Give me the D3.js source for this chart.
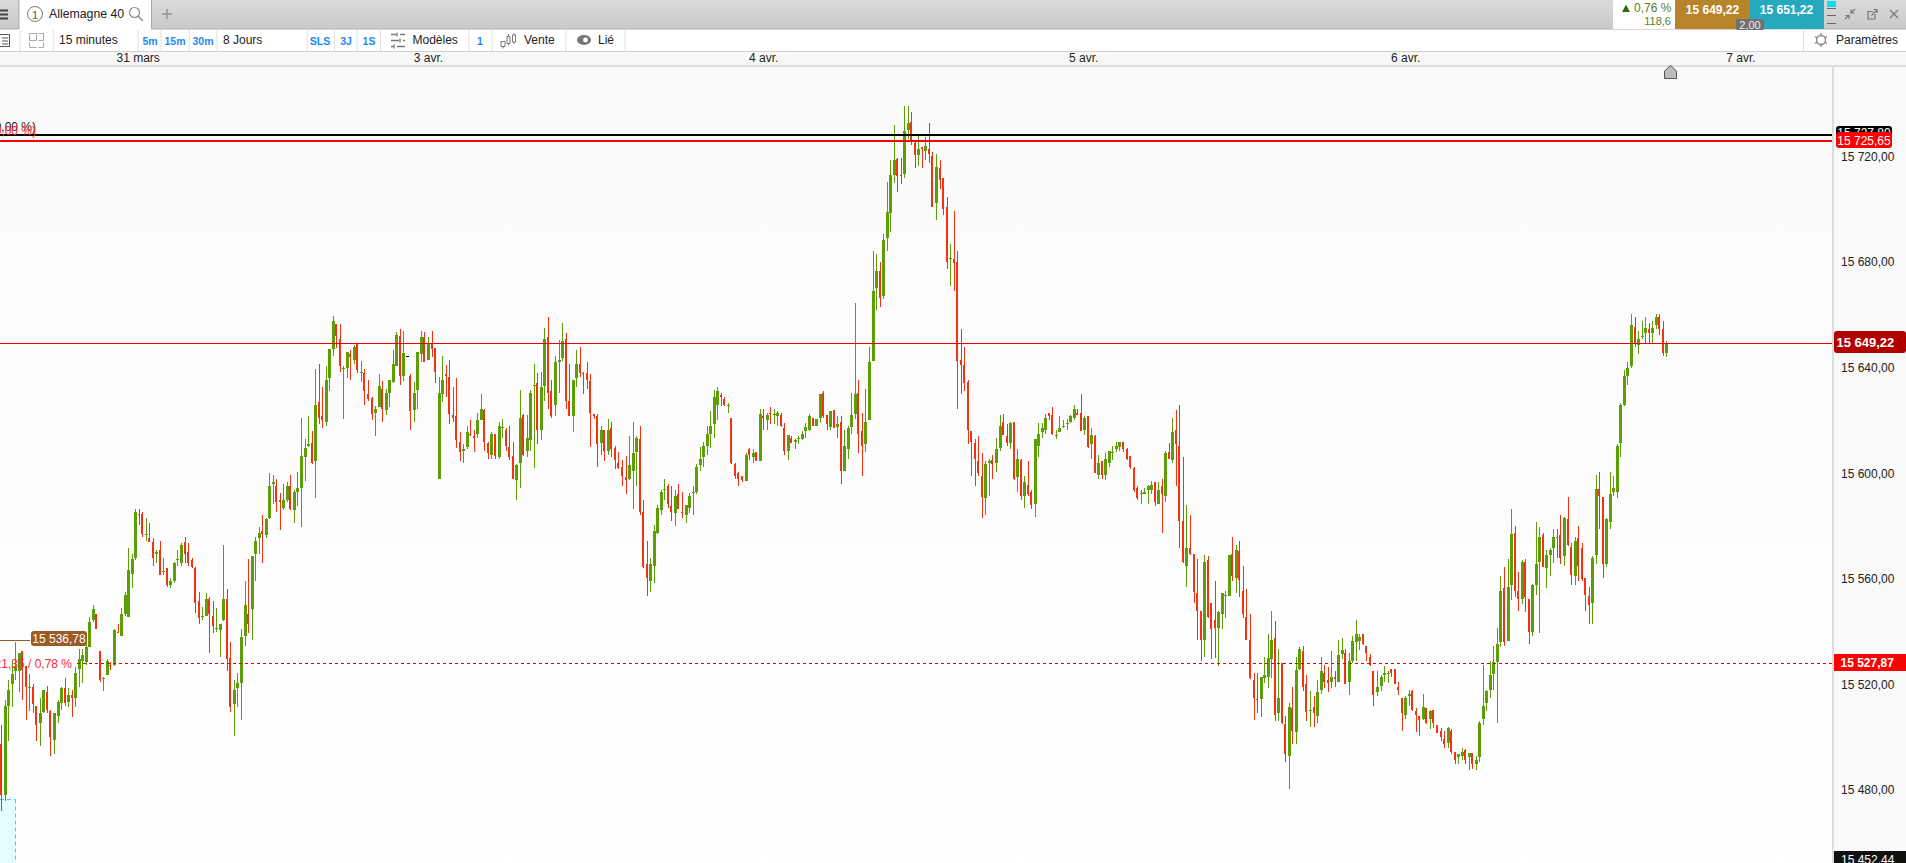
<!DOCTYPE html>
<html lang="fr"><head><meta charset="utf-8"><title>Allemagne 40</title>
<style>html,body{margin:0;padding:0;background:#fff;overflow:hidden}svg{display:block;font-family:"Liberation Sans",Arial,sans-serif}</style>
<script src="https://cdn.jsdelivr.net/npm/d3@7/dist/d3.min.js"></script></head><body><svg id="c" width="1906" height="863"></svg>
<script>
// [open, high, low, close]
const session1=[[15497.5,15504.5,15472,15478],[15478,15514,15476,15512],[15512,15521.5,15498.5,15518],[15520,15529,15511.5,15524],[15525,15536,15521.5,15527],[15525,15532,15517,15532],[15532.5,15532.5,15514,15525.5],[15527,15527,15506.5,15519],[15518.5,15524,15510,15519],[15519,15520,15509,15512.5],[15512,15512,15498.5,15504.5],[15505.5,15515,15496.5,15509],[15509.5,15518,15509,15518],[15517,15519.5,15509,15510.5],[15510,15510.5,15493,15500],[15499,15509,15493.5,15509],[15508,15514,15505.5,15513.5],[15513,15519,15510.5,15518.5],[15518.5,15522.5,15512,15513],[15513.5,15518.5,15511.5,15516],[15516,15518,15507.5,15515],[15515,15526.5,15511.5,15524.5],[15526,15533.5,15519,15529.5],[15529,15533.5,15520.5,15531],[15528.5,15535,15527.5,15534],[15534,15545.5,15534,15543.5],[15544.5,15550,15543.5,15548.5],[15546.5,15546.5,15541,15541],[15532.5,15532.5,15521,15521.5],[15522,15523,15517.5,15522.5],[15523.5,15529.5,15523.5,15529],[15527.5,15528.5,15525.5,15527],[15527.5,15541,15527,15540.5],[15540,15543,15539.5,15539.5],[15538.5,15549,15538.5,15546.5],[15546.5,15555,15546,15554],[15545.5,15571.5,15545.5,15563.5],[15562,15569.5,15556.5,15567.5],[15568,15586.5,15567,15585.5],[15584.5,15586.5,15580.5,15584],[15584.5,15585.5,15576,15577],[15576.5,15583,15574.5,15577],[15575.5,15581,15574,15574],[15574,15575.5,15565,15568],[15569.5,15571,15566,15570],[15571,15574.5,15561.5,15561.5],[15562.5,15568,15561.5,15563],[15564,15564,15557,15557.5],[15557.5,15560.5,15556.5,15559],[15559,15566.5,15558.5,15566],[15567,15571,15565,15567.5],[15566,15573.5,15565,15573],[15574,15576,15566,15569.5],[15570,15573.5,15565,15566],[15567,15568,15564,15564.5],[15564,15564.5,15547,15551],[15551.5,15555,15543,15545],[15545.5,15549.5,15544.5,15546],[15546,15554.5,15546,15552.5],[15552.5,15553,15532,15546.5],[15546,15551.5,15539.5,15542],[15541,15549,15540,15541.5],[15540.5,15543,15530.5,15543],[15544.5,15573,15544,15552.5],[15552.5,15556,15525,15529.5],[15530,15536,15509.5,15511.5],[15512.5,15521.5,15500.5,15518],[15518.5,15524.5,15511.5,15520.5],[15520.5,15541,15506.5,15538],[15538.5,15559,15534.5,15550],[15546.5,15567.5,15539.5,15543],[15548.5,15568.5,15537,15568.5],[15569.5,15576,15559,15574.5],[15575.5,15579.5,15569.5,15577.5],[15578,15584,15566,15577],[15576.5,15583,15575.5,15582.5],[15583,15600,15582.5,15595],[15596,15599.5,15588.5,15596.5],[15595,15598,15585.5,15589],[15590,15592.5,15578.5,15589],[15587,15596,15586,15590],[15590,15596.5,15589,15595],[15595,15599.5,15586,15586.5],[15586,15593.5,15581,15593],[15593,15600.5,15587.5,15594.5],[15594.5,15621,15579.5,15606.5],[15606,15613,15597,15609.5],[15610.5,15621.5,15610,15611],[15611.5,15616,15603.5,15604],[15604.5,15639.5,15590.5,15626],[15627,15641.5,15618.5,15621]];
const session2=[[15621.5,15632.5,15617,15620],[15619.5,15640.5,15618,15635.5],[15636,15647,15631,15647],[15647,15659.5,15644.5,15657.5],[15656.5,15656.5,15647.5,15652],[15651,15656.5,15638.5,15640.5],[15639.5,15640.5,15620.5,15640],[15640,15646,15636,15646],[15645,15646.5,15635.5,15644],[15643,15648.5,15641.5,15648],[15649,15649,15638,15639],[15638,15642.5,15634.5,15638.5],[15638,15639.5,15626,15631],[15630,15635.5,15627.5,15628],[15628.5,15629,15620,15622.5],[15623,15625.5,15614,15624.5],[15625,15637.5,15625,15633],[15632,15635,15619.5,15624.5],[15624,15632,15622,15630.5],[15630.5,15635.5,15625,15635.5],[15634.5,15646.5,15634,15641.5],[15640.5,15653.5,15640.5,15652.5],[15652,15654.5,15633.5,15637],[15637,15654,15635,15645.5],[15644.5,15644.5,15644.5,15644.5],[15637,15637.5,15616.5,15623.5],[15624,15634.5,15619.5,15630.5],[15631.5,15646,15624.5,15646],[15645,15654,15642,15651.5],[15651.5,15653.5,15642,15642],[15643,15651.5,15643,15649.5],[15649.5,15654,15644,15647],[15647.5,15647.5,15634,15638.5],[15598,15636.5,15598,15630.5],[15630,15644.5,15627,15635.5],[15637.5,15641,15629,15637],[15636.5,15643,15618.5,15622.5],[15622,15632.5,15619.5,15621],[15621.5,15636,15609.5,15612.5],[15612,15615.5,15604.5,15608],[15608.5,15611,15604,15609],[15610,15618,15609,15615.5],[15615,15620,15614,15614.5],[15614,15616.5,15608,15613.5],[15615,15623,15613.5,15620],[15620,15630,15620,15624.5],[15624,15624.5,15608.5,15612],[15611.5,15612,15605.5,15607.5],[15607,15615.5,15605.5,15615],[15615,15615,15605.5,15606.5],[15606,15619.5,15605.5,15618],[15617,15620.5,15613.5,15617.5],[15616.5,15617,15608.5,15610.5],[15610,15618,15605,15606],[15606.5,15612,15598,15598],[15597.5,15603.5,15590,15603],[15604,15631.5,15594.5,15621],[15622,15622.5,15606.5,15607],[15608.5,15622,15606,15613.5],[15612.5,15631.5,15608.5,15630.5],[15633,15641.5,15602,15633.5],[15634,15638,15611,15616.5],[15616.5,15638.5,15612.5,15632.5],[15633,15655,15627.5,15651],[15651.5,15659,15624.5,15630.5],[15631,15635.5,15621,15621.5],[15626,15644.5,15621.5,15642],[15642,15650.5,15630.5,15643],[15643.5,15657,15642.5,15650],[15651,15653,15624.5,15627.5],[15627.5,15641.5,15621.5,15621.5],[15621.5,15635.5,15615.5,15635.5],[15636,15646.5,15632.5,15641.5],[15641.5,15648,15636.5,15638],[15638,15638.5,15630,15637.5],[15638,15642,15632,15635.5],[15635,15637.5,15610,15623],[15622.5,15622.5,15620.5,15621.5],[15621.5,15622.5,15602.5,15611],[15611.5,15618,15607,15616.5],[15616.5,15616.5,15604.5,15608.5],[15608.5,15620.5,15607,15616.5],[15617,15619.5,15606,15609],[15609.5,15610.5,15601.5,15605],[15604,15608,15601.5,15602],[15602.5,15605,15595,15599],[15598.5,15606.5,15592,15597.5],[15598,15614,15597.5,15603],[15601,15619.5,15586.5,15607.5],[15608,15614,15595,15613.5],[15613,15618,15584,15585.5]];
const session3=[[15585.5,15590,15564,15564.5],[15565.5,15574.5,15553.5,15560.5],[15559,15568,15555,15565.5],[15565,15580.5,15558.5,15578],[15577.5,15588,15577,15587],[15586,15593.5,15584,15593],[15593.5,15598,15590,15594],[15595,15596,15587,15588.5],[15587.5,15595,15582,15585.5],[15585,15593.5,15580,15591.5],[15592,15596,15586.5,15586.5],[15585.5,15593,15583,15585],[15584,15588,15581,15588],[15587,15592.5,15585,15591.5],[15592.5,15595,15584,15593],[15593,15603.5,15592,15602.5],[15603,15610,15601,15605.5],[15606,15612,15602.5,15610.5],[15610.5,15618,15607,15615],[15615,15623.5,15609.5,15618],[15618.5,15631.5,15613.5,15629],[15626,15632.5,15620,15631],[15629.5,15630.5,15625.5,15629],[15628,15629,15625.5,15626],[15625.5,15626.5,15623,15626],[15621,15621,15603.5,15604],[15603.5,15604,15598,15599],[15600,15600.5,15595,15598],[15599,15599,15596.5,15597.5],[15597,15607.5,15597,15607],[15609,15609.5,15605,15607],[15606,15609,15604,15607.5],[15608,15608,15604.5,15604.5],[15604.5,15624.5,15604.5,15622.5],[15621.5,15624.5,15616.5,15621],[15620,15623,15616.5,15622],[15623,15625,15618.5,15622.5],[15622,15624.5,15618.5,15622.5],[15621.5,15623.5,15618,15623],[15622,15623,15617.5,15618],[15617,15619,15607,15608.5],[15608.5,15614.5,15605,15614.5],[15613.5,15614,15611.5,15611.5],[15612,15613,15609,15612.5],[15613,15614,15611,15613.5],[15613,15616,15612.5,15615],[15616,15619,15613.5,15617.5],[15616.5,15622.5,15616,15621.5],[15621,15621,15618,15618],[15618,15620.5,15618,15620.5],[15621,15630,15619,15630],[15630.5,15631,15621,15621.5],[15622,15622,15616.5,15618.5],[15617.5,15623.5,15616.5,15623.5],[15624,15624,15617,15617],[15617.5,15621.5,15613.5,15618.5],[15619.5,15621.5,15596,15601],[15601,15616.5,15601,15610.5],[15609,15618,15605.5,15617],[15617.5,15630.5,15615,15622],[15622.5,15664.5,15620.5,15630],[15630.5,15635.5,15607.5,15615],[15616,15623,15599,15610.5],[15611,15632,15608,15619.5],[15620,15648,15620,15642]];
const session4=[[15642.5,15684,15642.5,15669],[15670,15683,15662,15676.5],[15676.5,15680,15663,15666.5],[15667,15690.5,15666,15688.5],[15689,15710.5,15684,15699],[15698.5,15718.5,15691.5,15713],[15713,15732,15710,15718.5],[15719,15719.5,15706.5,15712.5],[15713,15719.5,15709.5,15712.5],[15713.5,15739,15712,15729.5],[15730,15739,15726.5,15732.5],[15733,15737,15724.5,15725.5],[15725,15726,15715.5,15720.5],[15720.5,15728,15716.5,15723],[15723.5,15723.5,15715.5,15723],[15722,15727.5,15718.5,15724],[15723,15732.5,15717.5,15721],[15720,15721.5,15701,15701],[15702.5,15721,15696,15716],[15715.5,15718.5,15707.5,15711],[15712,15712,15698,15700],[15701,15704.5,15677.5,15680],[15681,15687,15671,15681.5],[15681,15699.5,15669,15679.5],[15680,15684,15624.5,15642.5],[15643,15654.5,15630,15641],[15641,15648,15631,15634],[15634.5,15635.5,15611,15616.5]];
const session5=[[15616,15616,15599,15612],[15611.5,15613,15595,15605.5],[15604.5,15614,15599,15600],[15599,15607.5,15583,15591],[15590.5,15604.5,15584,15603.5],[15604,15605.5,15591.5,15604.5],[15605,15607,15598,15603.5],[15604,15613.5,15600.5,15609],[15609.5,15622,15608.5,15618],[15619.5,15622.5,15614.5,15614.5],[15614,15618.5,15610.5,15611.5],[15611.5,15619.5,15609,15619],[15619.5,15619.5,15597.5,15598],[15598.5,15609,15593,15605.5],[15605,15605.5,15590,15591.5],[15591.5,15599,15587,15596.5],[15595.5,15604.5,15591.5,15592],[15593,15593.5,15586.5,15588],[15588.5,15613,15583.5,15613],[15610.5,15619,15606,15615],[15615.5,15619,15613.5,15617],[15616.5,15622.5,15615,15621],[15623,15623,15620,15621.5],[15622,15625,15614.5,15615],[15614,15616.5,15613,15614.5],[15615.5,15621.5,15615.5,15617],[15617.5,15620,15617,15618],[15618.5,15620.5,15616.5,15619],[15619.5,15622,15619,15621.5],[15621,15626,15620,15624.5],[15623,15624.5,15622,15622],[15623,15630,15616,15616],[15616.5,15621.5,15614.5,15621],[15621.5,15621.5,15609.5,15610],[15611,15617,15605.5,15614.5],[15614,15614.5,15600,15600],[15599.5,15607,15598,15604],[15604.5,15604.5,15598,15599.5],[15599.5,15607.5,15597.5,15605.5],[15604,15608.5,15602.5,15608.5],[15607.5,15610.5,15605,15608],[15609,15612,15608,15610.5],[15610,15612,15608.5,15612],[15612,15612,15608,15609],[15609,15609.5,15605,15605.5],[15606.5,15606.5,15601.5,15602.5],[15602,15602.5,15593,15593.5],[15594.5,15595,15590,15590.5],[15592,15593.5,15588.5,15592.5],[15592,15594.5,15592,15593],[15593.5,15595.5,15588.5,15595],[15593.5,15597,15592,15595.5],[15596.5,15596.5,15587.5,15589],[15588.5,15596.5,15588.5,15593.5],[15595,15598,15577.5,15592],[15591.5,15608.5,15589,15607.5],[15608,15611.5,15605.5,15605.5],[15605,15621,15604,15615.5],[15616.5,15624,15595,15611],[15610.5,15626,15571.5,15582],[15582,15606,15566,15566.5],[15565,15588,15557,15571.5],[15571.5,15584,15569,15569.5],[15569.5,15569.5,15551,15555],[15554.5,15567.5,15537,15548],[15548,15548,15529,15537],[15537,15569,15530.5,15566.5],[15567,15568.5,15545,15545.5],[15551,15551,15529.5,15541],[15544.5,15559,15530,15541.5],[15541.5,15548,15527,15547.5],[15546.5,15554.5,15541,15554.5],[15553.5,15555.5,15545,15554],[15553.5,15569,15553.5,15569],[15569.5,15576,15559,15561],[15560.5,15573,15554.5,15571],[15570.5,15574.5,15553,15559.5],[15555.5,15565,15545,15546.5],[15545.5,15556,15537,15537],[15537,15546.5,15522,15522.5],[15521.5,15524.5,15506.5,15515],[15514.5,15524.5,15509,15514],[15514.5,15523,15507.5,15523],[15522.5,15530.5,15520.5,15523.5],[15523,15539,15518.5,15530]];
const session6=[[15529.5,15548,15522.5,15537],[15537.5,15544,15506,15508.5],[15509,15533.5,15506,15515],[15528,15528,15505,15505.5],[15505,15508,15490.5,15493.5],[15493,15513,15480.5,15511.5],[15511,15519,15497.5,15502.5],[15502,15530.5,15497.5,15525.5],[15526,15534,15525.5,15533.5],[15532.5,15534.5,15517.5,15519],[15520,15523.5,15506,15509.5],[15510,15517.5,15504,15510.5],[15511.5,15515.5,15504,15509],[15508,15521.5,15505.5,15517],[15518,15530.5,15516.5,15525],[15524.5,15527.5,15518.5,15521],[15521.5,15526.5,15517,15520.5],[15521,15532.5,15518.5,15523],[15523,15525,15519,15522],[15521,15537,15521,15531],[15531.5,15537.5,15529.5,15533],[15532,15533.5,15520,15520],[15521,15532,15516,15529],[15529,15538.5,15528,15536.5],[15536,15544.5,15529,15539],[15536.5,15539,15533,15538],[15539,15539,15535,15535.5],[15534.5,15534.5,15529,15532],[15530.5,15531.5,15527,15527.5],[15525,15525,15512,15516],[15517,15525,15515.5,15519],[15519.5,15523.5,15517.5,15523],[15523.5,15527,15521,15524.5],[15524,15525,15520.5,15524.5],[15526,15526,15523,15524.5],[15526,15526,15520,15520],[15519,15521,15516,15518],[15515,15515,15502.5,15509],[15508.5,15515.5,15507,15515],[15515.5,15518,15512,15516.5],[15517.5,15518,15510,15510.5],[15510,15511,15502,15508.5],[15508,15508,15500.5,15506.5],[15507,15516.5,15506.5,15511.5],[15511,15511,15505,15505.5],[15507,15510.5,15503,15510],[15510.5,15510.5,15503.5,15505.5],[15504.5,15504.5,15501.5,15501.5],[15502.5,15503.5,15498.5,15500],[15499.5,15502.5,15496,15497.5],[15498,15504,15496,15503.5],[15502.5,15503,15493.5,15494.5],[15494.5,15494.5,15490,15491.5],[15492.5,15493.5,15490,15493.5],[15493,15496,15491.5,15494.5],[15495,15495.5,15490,15491.5],[15492.5,15494,15487.5,15494],[15494,15494,15488,15490],[15490,15493,15487.5,15491.5],[15492.5,15506,15490.5,15505.5],[15507,15527.5,15504.5,15512],[15513,15518,15510,15517.5],[15518,15529,15515,15523.5],[15524,15534.5,15518,15528.5],[15528.5,15541.5,15505.5,15535.5]];
const session7=[[15536,15561,15534,15555.5],[15556.5,15564.5,15534.5,15536],[15536.5,15567.5,15536.5,15557],[15557.5,15586.5,15552,15577],[15577.5,15580,15553,15555.5],[15555.5,15562.5,15548,15552.5],[15552.5,15567,15550.5,15566.5],[15566.5,15567.5,15547.5,15553],[15552.5,15552.5,15535.5,15540],[15540,15558,15538.5,15557.5],[15557.5,15581.5,15554,15565.5],[15566.5,15579.5,15539.5,15576],[15576.5,15577.5,15564.5,15564.5],[15564,15571,15556.5,15569],[15569,15571.5,15561,15571],[15571.5,15579,15566,15576],[15576,15579,15568,15575.5],[15576.5,15584,15565.5,15568],[15568.5,15583.5,15565,15583],[15582.5,15591,15572.5,15573],[15572,15573.5,15557.5,15561.5],[15561,15576,15557.5,15574.5],[15575.5,15580,15559,15565],[15571.5,15573.5,15559,15560],[15560.5,15560.5,15548,15554],[15553.5,15557,15543,15550],[15551,15568.5,15543,15568],[15569,15599.5,15565.5,15594],[15594,15600.5,15579,15591.5],[15591,15591,15560.5,15565.5],[15565.5,15583,15564.5,15582.5],[15581.5,15600.5,15579,15592],[15593,15599,15591.5,15594.5],[15593,15611,15590.5,15610.5],[15611.5,15626.5,15606,15626],[15626,15639,15625.5,15637],[15637,15642,15633.5,15640],[15640.5,15660.5,15640,15656],[15655.5,15659,15648,15649],[15648.5,15654,15645,15651],[15651.5,15657.5,15651,15652],[15653,15659,15649.5,15655],[15654.5,15657,15649.5,15653],[15653,15657.5,15649.5,15655],[15656,15660.5,15654.5,15659],[15659,15660.5,15652.5,15654.5],[15654.5,15657.5,15644.5,15645.5],[15645.5,15650,15644,15649.22]];
const dateLabels=["31 mars","3 avr.","4 avr.","5 avr.","6 avr.","7 avr."];
const dateIndex=[38.7,121,216,306.7,398,493];
const priceTicks=[15720,15680,15640,15600,15560,15520,15480];
const lastPrice=15649.22, askPrice=15651.22, spread="2,00";
const highLevel=15727.8, redLevel=15725.65, prevClose=15527.87, openRef=15536.78, lowLevel=15452.44;

const candles=[...session1,...session2,...session3,...session4,...session5,...session6,...session7];
const W=1906,H=863,axisX=1833,chartTop=67;
const svg=d3.select("#c");
const x=d3.scaleLinear().domain([0,candles.length-1]).range([1.1,1666.3]);
const y=d3.scaleLinear().domain([15649.22,15452.44]).range([343.3,862.8]);
const fmt=v=>{const s=v.toFixed(2).replace(".",",");return s.slice(0,2)+" "+s.slice(2)};
const defs=svg.append("defs");
const lg=(id,a,b)=>{const g=defs.append("linearGradient").attr("id",id).attr("x1",0).attr("x2",0).attr("y1",0).attr("y2",1);g.append("stop").attr("offset",0).attr("stop-color",a);g.append("stop").attr("offset",1).attr("stop-color",b)};
lg("bgc","#fafafa","#ffffff");lg("tab","#dadada","#c9c9c9");
const rect=(p,x0,y0,w,h,f)=>p.append("rect").attr("x",x0).attr("y",y0).attr("width",w).attr("height",h).attr("fill",f);
const text=(p,t,x0,y0,o={})=>p.append("text").text(t).attr("x",x0).attr("y",y0).attr("font-size",o.s||12).attr("fill",o.f||"#222").attr("font-weight",o.w||null).attr("text-anchor",o.a||"start").attr("dominant-baseline","central");
const line=(p,a,b,c,d,col,w=1)=>p.append("line").attr("x1",a).attr("y1",b).attr("x2",c).attr("y2",d).attr("stroke",col).attr("stroke-width",w);

// chart background
rect(svg,0,chartTop,axisX,H-chartTop,"url(#bgc)");
rect(svg,axisX,chartTop,W-axisX,H-chartTop,"#f9f9f9");
rect(svg,axisX-1,chartTop-1,2,H-chartTop+1,"#dcdcdc");

// cyan zone
rect(svg,0,799.5,15.5,H-799.5,"#e4fbff");
line(svg,0,799.5,15.5,799.5,"#35d5ee").attr("stroke-dasharray","4 3");
line(svg,15.5,799.5,15.5,H,"#35d5ee").attr("stroke-dasharray","4 3");

// candles
const up="#5c9e05",dn="#f5320f";
const col=d=>d[3]>d[0]?up:d[3]<d[0]?dn:"#000";
const g=svg.append("g").attr("shape-rendering","crispEdges");
const cx=i=>Math.round(x(i));
g.selectAll("rect.w").data(candles).join("rect").attr("class","w")
 .attr("x",(d,i)=>cx(i)).attr("width",1)
 .attr("y",d=>y(d[1])).attr("height",d=>Math.max(1,y(d[2])-y(d[1]))).attr("fill",col);
g.selectAll("rect.b").data(candles).join("rect").attr("class","b")
 .attr("x",(d,i)=>cx(i)-1).attr("width",d=>d[3]<d[0]?2:3)
 .attr("y",d=>y(Math.max(d[0],d[3]))).attr("height",d=>Math.max(1,Math.abs(y(d[0])-y(d[3])))).attr("fill",col);

// levels
const lev=svg.append("g").attr("shape-rendering","crispEdges");
line(lev,0,y(highLevel)-1,axisX-1,y(highLevel)-1,"#000",2);
line(lev,0,y(redLevel)-1,axisX-1,y(redLevel)-1,"#f00",2);
line(lev,0,y(lastPrice),axisX-1,y(lastPrice),"#e60000",1);
line(lev,77,y(prevClose),axisX-1,y(prevClose),"#e80000",1).attr("stroke-dasharray","3 3");
line(lev,0,y(openRef),30,y(openRef),"#9c5a25",1);
text(svg,"(0,00 %)",36,127,{a:"end"});
text(svg,"(0,00 %)",36,131,{a:"end",f:"#f22"});
text(svg,"21,35 / 0,78 %",72,664,{a:"end",f:"#ff2a3a"});
svg.append("rect").attr("x",31).attr("y",631).attr("width",56).attr("height",15).attr("rx",3).attr("fill","#9c5a25");
text(svg,fmt(openRef),59,638.8,{a:"middle",f:"#fff"});

// price axis
const ay=d3.axisRight(y).tickValues(priceTicks).tickFormat(fmt).tickSize(0).tickPadding(0);
const gy=svg.append("g").attr("transform",`translate(1841,0)`).call(ay);
gy.select(".domain").remove();
gy.selectAll("text").attr("font-size",12).attr("font-family","Liberation Sans").attr("fill","#222");

// price tags
svg.append("rect").attr("x",1836).attr("y",126).attr("width",56).attr("height",16).attr("rx",3).attr("fill","#000");
text(svg,fmt(highLevel),1864,133,{a:"middle",f:"#fff"});
svg.append("rect").attr("x",1836).attr("y",132).attr("width",56).attr("height",16).attr("rx",3).attr("fill","#f00");
text(svg,fmt(redLevel),1864,140.5,{a:"middle",f:"#fff"});
svg.append("rect").attr("x",1834).attr("y",331).attr("width",72).attr("height",22).attr("rx",3).attr("fill","#b00000");
text(svg,fmt(lastPrice),1836.5,342.5,{f:"#fff",w:"bold",s:13});
rect(svg,1834,654,72,17,"#f00");
text(svg,fmt(prevClose),1840.5,662.5,{f:"#fff",w:"bold"});
rect(svg,1834,851,72,12,"#111");
text(svg,fmt(lowLevel),1841,859.5,{f:"#fff"});

// header: date row
rect(svg,0,52,W,13,"#f8f8f8");
rect(svg,0,65,W,2,"#dddddd");
const ax=d3.axisBottom(x.copy()).tickValues(dateIndex).tickFormat((d,i)=>dateLabels[i]).tickSize(0).tickPadding(0);
const gx=svg.append("g").attr("transform","translate(0,52)").call(ax);
gx.select(".domain").remove();
gx.selectAll("text").attr("font-size",12).attr("font-family","Liberation Sans").attr("fill","#222").attr("dy","0.82em").attr("y",0);

// toolbar
rect(svg,0,29,W,22,"#fff");
rect(svg,0,51,W,1,"#cfcfcf");
[19.5,52.7,137.6,160.5,188.7,216.4,306.8,334,356.6,380,468.5,491.7,565.5,624.4,1803].forEach(v=>rect(svg,v,30,1,21,"#e0e0e0"));
text(svg,"15 minutes",59,40);text(svg,"8 Jours",223,40);
[["5m",150],["15m",175],["30m",203],["SLS",320],["3J",346],["1S",369],["1",480]].forEach(d=>text(svg,d[0],d[1],40.5,{a:"middle",f:"#1e88f0",w:"bold",s:10.5}));
text(svg,"Modèles",412.5,40);text(svg,"Vente",524,40);text(svg,"Lié",598,40);text(svg,"Paramètres",1836,40);
// toolbar icons
const ic=svg.append("g").attr("fill","none").attr("stroke","#888");
ic.append("path").attr("d","M0 34.5H9.5V46.5H0M2 38H8M2 41H8M2 44H8").attr("stroke","#555");
ic.append("path").attr("d","M29.5 33.5H36.5V40.5H29.5ZM38.5 33.5H43.5V40.5H38.5M29.5 42.5V47.5H36.5M38.5 47.5H43.5V42.5").attr("stroke","#aaa");
ic.append("path").attr("d","M391 34.5H396M400 34.5H405M391 40.5H399M403 40.5H405M391 46.5H393M397 46.5H405M397 32.5V36.5M400 38.5V42.5M394 44.5V48.5").attr("stroke","#777").attr("stroke-width",1.3);
ic.append("path").attr("d","M501 41.5h4v5h-4zM503 46.5v2M507 36.5h3v7h-3zM508.5 43.5v2M508.5 34v2.5M512.5 35h3v7h-3zM514 33v2M514 42v2").attr("stroke","#777");
svg.append("ellipse").attr("cx",584).attr("cy",40).attr("rx",7).attr("ry",5).attr("fill","#777");
svg.append("circle").attr("cx",585.5).attr("cy",40).attr("r",2.4).attr("fill","#fff");
const gear=svg.append("g").attr("transform","translate(1821,40)");
gear.append("circle").attr("r",4.5).attr("fill","none").attr("stroke","#888").attr("stroke-width",1.4);
d3.range(6).forEach(k=>{const a=k*Math.PI/3+Math.PI/6;gear.append("line").attr("x1",4.5*Math.cos(a)).attr("y1",4.5*Math.sin(a)).attr("x2",7*Math.cos(a)).attr("y2",7*Math.sin(a)).attr("stroke","#888").attr("stroke-width",1.4)});

// tab bar
rect(svg,0,0,W,29,"url(#tab)");
rect(svg,0,28.5,W,1,"#b4b4b4");
rect(svg,19,0,132,30,"#fff");
rect(svg,18.5,0,1,29,"#aaa");rect(svg,151,0,1,29,"#aaa");
[9.5,13.5,17.5].forEach(v=>rect(svg,0,v,8,2,"#444"));
svg.append("circle").attr("cx",35).attr("cy",14).attr("r",7.5).attr("fill","none").attr("stroke","#777");
text(svg,"1",35,14.5,{a:"middle",s:11,f:"#555"});
text(svg,"Allemagne 40",49,14,{s:12.3});
svg.append("circle").attr("cx",134.5).attr("cy",12.5).attr("r",5).attr("fill","none").attr("stroke","#888").attr("stroke-width",1.2);
line(svg,138,16,143,21,"#888",1.4);
line(svg,162,14,172,14,"#999",1.6);line(svg,167,9,167,19,"#999",1.6);
// top right
rect(svg,1613,0,62,29,"#fff");
rect(svg,1675,0,75,29,"#b8842a");
rect(svg,1750,0,74,29,"#27a9bd");
svg.append("path").attr("d","M1622 12L1626 4.5L1630 12Z").attr("fill","#2f6b12");
text(svg,"0,76 %",1634,8,{f:"#5a7d28"});
text(svg,"118,6",1671,21,{a:"end",s:11,f:"#5a7d28"});
text(svg,fmt(lastPrice),1712.5,10,{a:"middle",f:"#fff",w:"bold",s:12});
text(svg,fmt(askPrice),1786.5,10,{a:"middle",f:"#fff",w:"bold",s:12});
svg.append("rect").attr("x",1736).attr("y",19).attr("width",28).attr("height",11).attr("rx",1.5).attr("fill","#707070");
text(svg,spread,1750,24.5,{a:"middle",f:"#eee",s:11});
rect(svg,1827,1,9,6,"#00e0ff");
[8,15,23].forEach(v=>rect(svg,1827,v,9,1,"#666"));
const tr=svg.append("g").attr("fill","none").attr("stroke","#777").attr("stroke-width",1.2);
tr.append("path").attr("d","M1845 19L1849 15M1845.5 15.5H1849V19M1855 9L1851 13M1851 9.5V13H1854.5");
tr.append("path").attr("d","M1875 14V19H1868V11.5H1873M1871.5 15.5L1877 10M1873.5 9.5H1877V13");
tr.append("path").attr("d","M1890 10L1898 18M1898 10L1890 18");
// home marker
svg.append("path").attr("transform",`translate(${Math.round(x(candles.length))+0.5},0)`).attr("d","M-6 78.5V71L0 65.5L6 71V78.5Z").attr("fill","#bdbdbd").attr("stroke","#555");
</script></body></html>
